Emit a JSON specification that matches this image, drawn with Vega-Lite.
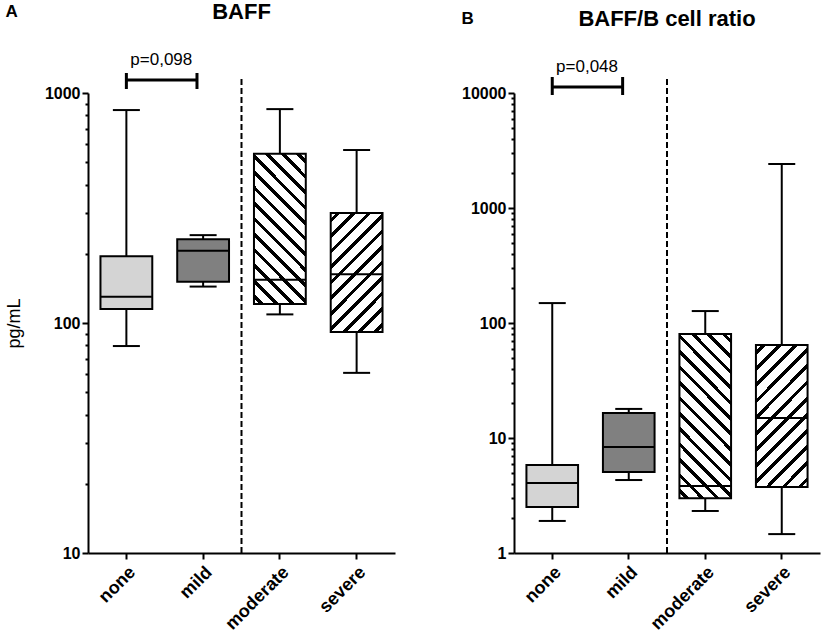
{
 "$schema": "https://vega.github.io/schema/vega-lite/v6.json",
 "padding": {"left": 5, "top": 1, "right": 2, "bottom": 0},
 "config": {"font": "Liberation Sans", "view": {"stroke": null}, "axis": {"domainColor": "black", "tickColor": "black", "labelColor": "black", "titleColor": "black", "grid": false}},
 "datasets": {
  "baff": [
   {"cat": "none", "lower": 79.4, "q1": 115, "median": 130, "q3": 195, "upper": 843},
   {"cat": "mild", "lower": 144, "q1": 151, "median": 206, "q3": 231, "upper": 241},
   {"cat": "moderate", "lower": 109, "q1": 121, "median": 154, "q3": 544, "upper": 851},
   {"cat": "severe", "lower": 60.7, "q1": 91.4, "median": 163, "q3": 301, "upper": 565}
  ],
  "ratio": [
   {"cat": "none", "lower": 1.9, "q1": 2.51, "median": 4.06, "q3": 5.82, "upper": 149},
   {"cat": "mild", "lower": 4.31, "q1": 5.06, "median": 8.35, "q3": 16.5, "upper": 17.9},
   {"cat": "moderate", "lower": 2.32, "q1": 3.0, "median": 3.83, "q3": 80.2, "upper": 127},
   {"cat": "severe", "lower": 1.46, "q1": 3.75, "median": 14.9, "q3": 64.4, "upper": 2414}
  ],
  "sigA": [{"from": "none", "to": "mild", "y": 1139, "capLo": 1041, "capHi": 1222, "ty": 1391, "label": "p=0,098", "split": "moderate", "splitLo": 10, "splitHi": 1162}],
  "sigB": [{"from": "none", "to": "mild", "y": 11276, "capLo": 9608, "capHi": 13780, "ty": 16830, "label": "p=0,048", "split": "moderate", "splitLo": 1, "splitHi": 13780}]
 },
 "spacing": 66,
 "hconcat": [
  {
   "title": {"text": "A", "anchor": "start", "frame": "bounds", "fontSize": 17, "fontWeight": "bold", "dy": 24},
   "hconcat": [
    {
     "width": 307, "height": 460,
     "title": {"text": "BAFF", "anchor": "middle", "fontSize": 22, "fontWeight": "bold", "offset": 27},
     "data": {"name": "baff"},
     "resolve": {"axis": {"y": "independent"}},
     "layer": [
      {"mark": {"type": "rule", "strokeWidth": 2, "color": "black"},
       "encoding": {
        "x": {"field": "cat", "type": "nominal", "title": null, "scale": {"domain": ["none", "mild", "moderate", "severe"], "paddingInner": 0, "paddingOuter": 0}, "axis": {"labelAngle": -45, "labelFontSize": 18, "labelFontWeight": "bold", "tickSize": 6, "tickWidth": 2, "domainWidth": 2, "labelPadding": 4}},
        "y": {"field": "lower", "type": "quantitative", "scale": {"type": "log", "domain": [10, 1000], "nice": false}, "axis": {"orient": "left", "values": [10, 100, 1000], "format": "d", "labelFontSize": 16, "labelFontWeight": "bold", "tickSize": 6, "tickWidth": 2, "domainWidth": 2, "labelPadding": 2, "labelOverlap": false, "title": "pg/mL", "titleFontSize": 18, "titleFontWeight": "normal", "titlePadding": 21}},
        "y2": {"field": "upper"}}},
      {"mark": {"type": "tick", "size": 27, "thickness": 2, "color": "black", "opacity": 1},
       "encoding": {"x": {"field": "cat", "type": "nominal", "title": null}, "y": {"field": "lower", "type": "quantitative", "axis": null}}},
      {"mark": {"type": "tick", "size": 27, "thickness": 2, "color": "black", "opacity": 1},
       "encoding": {"x": {"field": "cat", "type": "nominal", "title": null}, "y": {"field": "upper", "type": "quantitative", "axis": null}}},
      {"transform": [{"filter": "datum.cat == 'none' || datum.cat == 'mild'"}],
       "mark": {"type": "bar", "stroke": "black", "strokeWidth": 2, "width": {"band": 0.675}},
       "encoding": {"x": {"field": "cat", "type": "nominal", "title": null},
        "y": {"field": "q1", "type": "quantitative", "axis": {"orient": "left", "values": [20, 30, 40, 50, 60, 70, 80, 90, 200, 300, 400, 500, 600, 700, 800, 900], "labels": false, "domain": false, "tickSize": 3, "tickWidth": 2, "title": null}},
        "y2": {"field": "q3"},
        "fill": {"field": "cat", "type": "nominal", "scale": {"domain": ["none", "mild"], "range": ["#d4d4d4", "#808080"]}, "legend": null}}},
      {"transform": [{"filter": "datum.cat == 'moderate'"}],
       "mark": {"type": "bar", "stroke": "black", "strokeWidth": 2, "width": {"band": 0.675},
        "fill": {"gradient": "linear", "x1": 0, "y1": 1, "x2": 0.4168, "y2": -0.2022, "stops": [
         {"offset": 0, "color": "white"},
         {"offset": 0.0269, "color": "white"}, {"offset": 0.0269, "color": "black"}, {"offset": 0.0500, "color": "black"}, {"offset": 0.0500, "color": "white"},
         {"offset": 0.1038, "color": "white"}, {"offset": 0.1038, "color": "black"}, {"offset": 0.1269, "color": "black"}, {"offset": 0.1269, "color": "white"},
         {"offset": 0.1808, "color": "white"}, {"offset": 0.1808, "color": "black"}, {"offset": 0.2038, "color": "black"}, {"offset": 0.2038, "color": "white"},
         {"offset": 0.2577, "color": "white"}, {"offset": 0.2577, "color": "black"}, {"offset": 0.2808, "color": "black"}, {"offset": 0.2808, "color": "white"},
         {"offset": 0.3346, "color": "white"}, {"offset": 0.3346, "color": "black"}, {"offset": 0.3577, "color": "black"}, {"offset": 0.3577, "color": "white"},
         {"offset": 0.4115, "color": "white"}, {"offset": 0.4115, "color": "black"}, {"offset": 0.4346, "color": "black"}, {"offset": 0.4346, "color": "white"},
         {"offset": 0.4885, "color": "white"}, {"offset": 0.4885, "color": "black"}, {"offset": 0.5115, "color": "black"}, {"offset": 0.5115, "color": "white"},
         {"offset": 0.5654, "color": "white"}, {"offset": 0.5654, "color": "black"}, {"offset": 0.5885, "color": "black"}, {"offset": 0.5885, "color": "white"},
         {"offset": 0.6423, "color": "white"}, {"offset": 0.6423, "color": "black"}, {"offset": 0.6654, "color": "black"}, {"offset": 0.6654, "color": "white"},
         {"offset": 0.7192, "color": "white"}, {"offset": 0.7192, "color": "black"}, {"offset": 0.7423, "color": "black"}, {"offset": 0.7423, "color": "white"},
         {"offset": 0.7962, "color": "white"}, {"offset": 0.7962, "color": "black"}, {"offset": 0.8192, "color": "black"}, {"offset": 0.8192, "color": "white"},
         {"offset": 0.8731, "color": "white"}, {"offset": 0.8731, "color": "black"}, {"offset": 0.8962, "color": "black"}, {"offset": 0.8962, "color": "white"},
         {"offset": 0.9500, "color": "white"}, {"offset": 0.9500, "color": "black"}, {"offset": 0.9731, "color": "black"}, {"offset": 0.9731, "color": "white"},
         {"offset": 1, "color": "white"}]}},
       "encoding": {"x": {"field": "cat", "type": "nominal", "title": null}, "y": {"field": "q1", "type": "quantitative", "axis": null}, "y2": {"field": "q3"}}},
      {"transform": [{"filter": "datum.cat == 'severe'"}],
       "mark": {"type": "bar", "stroke": "black", "strokeWidth": 2, "width": {"band": 0.675},
        "fill": {"gradient": "linear", "x1": 0, "y1": 0, "x2": 0.5272, "y2": 1.2066, "stops": [
         {"offset": 0, "color": "white"},
         {"offset": 0.0318, "color": "white"}, {"offset": 0.0318, "color": "black"}, {"offset": 0.0591, "color": "black"}, {"offset": 0.0591, "color": "white"},
         {"offset": 0.1227, "color": "white"}, {"offset": 0.1227, "color": "black"}, {"offset": 0.1500, "color": "black"}, {"offset": 0.1500, "color": "white"},
         {"offset": 0.2136, "color": "white"}, {"offset": 0.2136, "color": "black"}, {"offset": 0.2409, "color": "black"}, {"offset": 0.2409, "color": "white"},
         {"offset": 0.3045, "color": "white"}, {"offset": 0.3045, "color": "black"}, {"offset": 0.3318, "color": "black"}, {"offset": 0.3318, "color": "white"},
         {"offset": 0.3955, "color": "white"}, {"offset": 0.3955, "color": "black"}, {"offset": 0.4227, "color": "black"}, {"offset": 0.4227, "color": "white"},
         {"offset": 0.4864, "color": "white"}, {"offset": 0.4864, "color": "black"}, {"offset": 0.5136, "color": "black"}, {"offset": 0.5136, "color": "white"},
         {"offset": 0.5773, "color": "white"}, {"offset": 0.5773, "color": "black"}, {"offset": 0.6045, "color": "black"}, {"offset": 0.6045, "color": "white"},
         {"offset": 0.6682, "color": "white"}, {"offset": 0.6682, "color": "black"}, {"offset": 0.6955, "color": "black"}, {"offset": 0.6955, "color": "white"},
         {"offset": 0.7591, "color": "white"}, {"offset": 0.7591, "color": "black"}, {"offset": 0.7864, "color": "black"}, {"offset": 0.7864, "color": "white"},
         {"offset": 0.8500, "color": "white"}, {"offset": 0.8500, "color": "black"}, {"offset": 0.8773, "color": "black"}, {"offset": 0.8773, "color": "white"},
         {"offset": 0.9409, "color": "white"}, {"offset": 0.9409, "color": "black"}, {"offset": 0.9682, "color": "black"}, {"offset": 0.9682, "color": "white"},
         {"offset": 1, "color": "white"}]}},
       "encoding": {"x": {"field": "cat", "type": "nominal", "title": null}, "y": {"field": "q1", "type": "quantitative", "axis": null}, "y2": {"field": "q3"}}},
      {"mark": {"type": "tick", "size": 51, "thickness": 2, "color": "black", "opacity": 1},
       "encoding": {"x": {"field": "cat", "type": "nominal", "title": null}, "y": {"field": "median", "type": "quantitative", "axis": null}}},
      {"data": {"name": "sigA"},
       "mark": {"type": "rule", "strokeWidth": 2, "strokeDash": [6, 3], "color": "black"},
       "encoding": {"x": {"field": "split", "type": "nominal", "title": null, "bandPosition": 0}, "y": {"field": "splitLo", "type": "quantitative", "axis": null}, "y2": {"field": "splitHi"}}},
      {"data": {"name": "sigA"},
       "mark": {"type": "rule", "strokeWidth": 3, "color": "black"},
       "encoding": {"x": {"field": "from", "type": "nominal", "title": null, "bandPosition": 0.5}, "x2": {"field": "to", "bandPosition": 0.42}, "y": {"field": "y", "type": "quantitative", "axis": null}}},
      {"data": {"name": "sigA"},
       "mark": {"type": "rule", "strokeWidth": 3, "color": "black"},
       "encoding": {"x": {"field": "from", "type": "nominal", "title": null, "bandPosition": 0.5}, "y": {"field": "capLo", "type": "quantitative", "axis": null}, "y2": {"field": "capHi"}}},
      {"data": {"name": "sigA"},
       "mark": {"type": "rule", "strokeWidth": 3, "color": "black"},
       "encoding": {"x": {"field": "to", "type": "nominal", "title": null, "bandPosition": 0.42}, "y": {"field": "capLo", "type": "quantitative", "axis": null}, "y2": {"field": "capHi"}}},
      {"data": {"name": "sigA"},
       "mark": {"type": "text", "fontSize": 17, "baseline": "middle", "align": "center", "color": "black"},
       "encoding": {"x": {"field": "from", "type": "nominal", "title": null, "bandPosition": 0.955}, "y": {"field": "ty", "type": "quantitative", "axis": null}, "text": {"field": "label"}}}
     ]
    }
   ]
  },
  {
   "title": {"text": "B", "anchor": "start", "frame": "bounds", "fontSize": 17, "fontWeight": "bold", "dy": 24},
   "hconcat": [
    {
     "width": 306, "height": 460,
     "title": {"text": "BAFF/B cell ratio", "anchor": "middle", "fontSize": 22, "fontWeight": "bold", "offset": 27},
     "data": {"name": "ratio"},
     "resolve": {"axis": {"y": "independent"}},
     "layer": [
      {"mark": {"type": "rule", "strokeWidth": 2, "color": "black"},
       "encoding": {
        "x": {"field": "cat", "type": "nominal", "title": null, "scale": {"domain": ["none", "mild", "moderate", "severe"], "paddingInner": 0, "paddingOuter": 0}, "axis": {"labelAngle": -45, "labelFontSize": 18, "labelFontWeight": "bold", "tickSize": 6, "tickWidth": 2, "domainWidth": 2, "labelPadding": 4}},
        "y": {"field": "lower", "type": "quantitative", "scale": {"type": "log", "domain": [1, 10000], "nice": false}, "axis": {"orient": "left", "values": [1, 10, 100, 1000, 10000], "format": "d", "labelFontSize": 16, "labelFontWeight": "bold", "tickSize": 6, "tickWidth": 2, "domainWidth": 2, "labelPadding": 2, "labelOverlap": false, "title": null}},
        "y2": {"field": "upper"}}},
      {"mark": {"type": "tick", "size": 27, "thickness": 2, "color": "black", "opacity": 1},
       "encoding": {"x": {"field": "cat", "type": "nominal", "title": null}, "y": {"field": "lower", "type": "quantitative", "axis": null}}},
      {"mark": {"type": "tick", "size": 27, "thickness": 2, "color": "black", "opacity": 1},
       "encoding": {"x": {"field": "cat", "type": "nominal", "title": null}, "y": {"field": "upper", "type": "quantitative", "axis": null}}},
      {"transform": [{"filter": "datum.cat == 'none' || datum.cat == 'mild'"}],
       "mark": {"type": "bar", "stroke": "black", "strokeWidth": 2, "width": {"band": 0.675}},
       "encoding": {"x": {"field": "cat", "type": "nominal", "title": null},
        "y": {"field": "q1", "type": "quantitative", "axis": {"orient": "left", "values": [2, 3, 4, 5, 6, 7, 8, 9, 20, 30, 40, 50, 60, 70, 80, 90, 200, 300, 400, 500, 600, 700, 800, 900, 2000, 3000, 4000, 5000, 6000, 7000, 8000, 9000], "labels": false, "domain": false, "tickSize": 3, "tickWidth": 2, "title": null}},
        "y2": {"field": "q3"},
        "fill": {"field": "cat", "type": "nominal", "scale": {"domain": ["none", "mild"], "range": ["#d4d4d4", "#808080"]}, "legend": null}}},
      {"transform": [{"filter": "datum.cat == 'moderate'"}],
       "mark": {"type": "bar", "stroke": "black", "strokeWidth": 2, "width": {"band": 0.675},
        "fill": {"gradient": "linear", "x1": 0, "y1": 1, "x2": 0.3795, "y2": -0.1968, "stops": [
         {"offset": 0, "color": "white"},
         {"offset": 0.0250, "color": "white"}, {"offset": 0.0250, "color": "black"}, {"offset": 0.0464, "color": "black"}, {"offset": 0.0464, "color": "white"},
         {"offset": 0.0964, "color": "white"}, {"offset": 0.0964, "color": "black"}, {"offset": 0.1179, "color": "black"}, {"offset": 0.1179, "color": "white"},
         {"offset": 0.1679, "color": "white"}, {"offset": 0.1679, "color": "black"}, {"offset": 0.1893, "color": "black"}, {"offset": 0.1893, "color": "white"},
         {"offset": 0.2393, "color": "white"}, {"offset": 0.2393, "color": "black"}, {"offset": 0.2607, "color": "black"}, {"offset": 0.2607, "color": "white"},
         {"offset": 0.3107, "color": "white"}, {"offset": 0.3107, "color": "black"}, {"offset": 0.3321, "color": "black"}, {"offset": 0.3321, "color": "white"},
         {"offset": 0.3821, "color": "white"}, {"offset": 0.3821, "color": "black"}, {"offset": 0.4036, "color": "black"}, {"offset": 0.4036, "color": "white"},
         {"offset": 0.4536, "color": "white"}, {"offset": 0.4536, "color": "black"}, {"offset": 0.4750, "color": "black"}, {"offset": 0.4750, "color": "white"},
         {"offset": 0.5250, "color": "white"}, {"offset": 0.5250, "color": "black"}, {"offset": 0.5464, "color": "black"}, {"offset": 0.5464, "color": "white"},
         {"offset": 0.5964, "color": "white"}, {"offset": 0.5964, "color": "black"}, {"offset": 0.6179, "color": "black"}, {"offset": 0.6179, "color": "white"},
         {"offset": 0.6679, "color": "white"}, {"offset": 0.6679, "color": "black"}, {"offset": 0.6893, "color": "black"}, {"offset": 0.6893, "color": "white"},
         {"offset": 0.7393, "color": "white"}, {"offset": 0.7393, "color": "black"}, {"offset": 0.7607, "color": "black"}, {"offset": 0.7607, "color": "white"},
         {"offset": 0.8107, "color": "white"}, {"offset": 0.8107, "color": "black"}, {"offset": 0.8321, "color": "black"}, {"offset": 0.8321, "color": "white"},
         {"offset": 0.8821, "color": "white"}, {"offset": 0.8821, "color": "black"}, {"offset": 0.9036, "color": "black"}, {"offset": 0.9036, "color": "white"},
         {"offset": 0.9536, "color": "white"}, {"offset": 0.9536, "color": "black"}, {"offset": 0.9750, "color": "black"}, {"offset": 0.9750, "color": "white"},
         {"offset": 1, "color": "white"}]}},
       "encoding": {"x": {"field": "cat", "type": "nominal", "title": null}, "y": {"field": "q1", "type": "quantitative", "axis": null}, "y2": {"field": "q3"}}},
      {"transform": [{"filter": "datum.cat == 'severe'"}],
       "mark": {"type": "bar", "stroke": "black", "strokeWidth": 2, "width": {"band": 0.675},
        "fill": {"gradient": "linear", "x1": 0, "y1": 0, "x2": 0.4411, "y2": 1.2047, "stops": [
         {"offset": 0, "color": "white"},
         {"offset": 0.0292, "color": "white"}, {"offset": 0.0292, "color": "black"}, {"offset": 0.0542, "color": "black"}, {"offset": 0.0542, "color": "white"},
         {"offset": 0.1125, "color": "white"}, {"offset": 0.1125, "color": "black"}, {"offset": 0.1375, "color": "black"}, {"offset": 0.1375, "color": "white"},
         {"offset": 0.1958, "color": "white"}, {"offset": 0.1958, "color": "black"}, {"offset": 0.2208, "color": "black"}, {"offset": 0.2208, "color": "white"},
         {"offset": 0.2792, "color": "white"}, {"offset": 0.2792, "color": "black"}, {"offset": 0.3042, "color": "black"}, {"offset": 0.3042, "color": "white"},
         {"offset": 0.3625, "color": "white"}, {"offset": 0.3625, "color": "black"}, {"offset": 0.3875, "color": "black"}, {"offset": 0.3875, "color": "white"},
         {"offset": 0.4458, "color": "white"}, {"offset": 0.4458, "color": "black"}, {"offset": 0.4708, "color": "black"}, {"offset": 0.4708, "color": "white"},
         {"offset": 0.5292, "color": "white"}, {"offset": 0.5292, "color": "black"}, {"offset": 0.5542, "color": "black"}, {"offset": 0.5542, "color": "white"},
         {"offset": 0.6125, "color": "white"}, {"offset": 0.6125, "color": "black"}, {"offset": 0.6375, "color": "black"}, {"offset": 0.6375, "color": "white"},
         {"offset": 0.6958, "color": "white"}, {"offset": 0.6958, "color": "black"}, {"offset": 0.7208, "color": "black"}, {"offset": 0.7208, "color": "white"},
         {"offset": 0.7792, "color": "white"}, {"offset": 0.7792, "color": "black"}, {"offset": 0.8042, "color": "black"}, {"offset": 0.8042, "color": "white"},
         {"offset": 0.8625, "color": "white"}, {"offset": 0.8625, "color": "black"}, {"offset": 0.8875, "color": "black"}, {"offset": 0.8875, "color": "white"},
         {"offset": 0.9458, "color": "white"}, {"offset": 0.9458, "color": "black"}, {"offset": 0.9708, "color": "black"}, {"offset": 0.9708, "color": "white"},
         {"offset": 1, "color": "white"}]}},
       "encoding": {"x": {"field": "cat", "type": "nominal", "title": null}, "y": {"field": "q1", "type": "quantitative", "axis": null}, "y2": {"field": "q3"}}},
      {"mark": {"type": "tick", "size": 51, "thickness": 2, "color": "black", "opacity": 1},
       "encoding": {"x": {"field": "cat", "type": "nominal", "title": null}, "y": {"field": "median", "type": "quantitative", "axis": null}}},
      {"data": {"name": "sigB"},
       "mark": {"type": "rule", "strokeWidth": 2, "strokeDash": [6, 3], "color": "black"},
       "encoding": {"x": {"field": "split", "type": "nominal", "title": null, "bandPosition": 0}, "y": {"field": "splitLo", "type": "quantitative", "axis": null}, "y2": {"field": "splitHi"}}},
      {"data": {"name": "sigB"},
       "mark": {"type": "rule", "strokeWidth": 3, "color": "black"},
       "encoding": {"x": {"field": "from", "type": "nominal", "title": null, "bandPosition": 0.5}, "x2": {"field": "to", "bandPosition": 0.42}, "y": {"field": "y", "type": "quantitative", "axis": null}}},
      {"data": {"name": "sigB"},
       "mark": {"type": "rule", "strokeWidth": 3, "color": "black"},
       "encoding": {"x": {"field": "from", "type": "nominal", "title": null, "bandPosition": 0.5}, "y": {"field": "capLo", "type": "quantitative", "axis": null}, "y2": {"field": "capHi"}}},
      {"data": {"name": "sigB"},
       "mark": {"type": "rule", "strokeWidth": 3, "color": "black"},
       "encoding": {"x": {"field": "to", "type": "nominal", "title": null, "bandPosition": 0.42}, "y": {"field": "capLo", "type": "quantitative", "axis": null}, "y2": {"field": "capHi"}}},
      {"data": {"name": "sigB"},
       "mark": {"type": "text", "fontSize": 17, "baseline": "middle", "align": "center", "color": "black"},
       "encoding": {"x": {"field": "from", "type": "nominal", "title": null, "bandPosition": 0.955}, "y": {"field": "ty", "type": "quantitative", "axis": null}, "text": {"field": "label"}}}
     ]
    }
   ]
  }
 ]
}
